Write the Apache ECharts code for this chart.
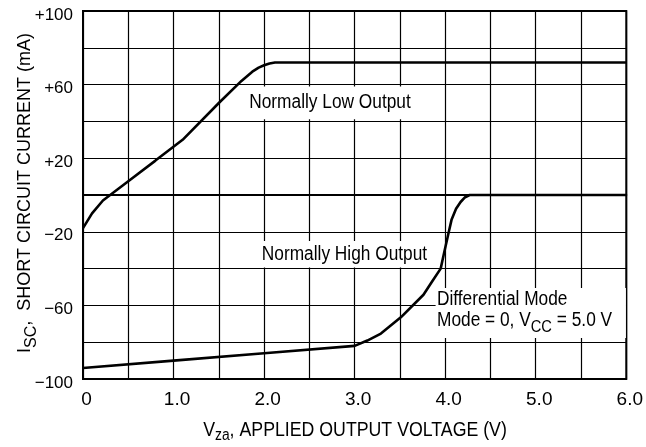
<!DOCTYPE html>
<html>
<head>
<meta charset="utf-8">
<script src="https://cdn.jsdelivr.net/npm/echarts@6/dist/echarts.min.js"></script>
<style>
html,body{margin:0;padding:0;background:#fff;}
#c{width:646px;height:447px;}
</style>
</head>
<body>
<div id="c"></div>
<script>
// ---- data ----
var lowOutput = [
  [0, -18], [0.1, -10], [0.22, -3], [0.5, 7.5], [0.8, 18.7], [1.1, 30],
  [1.5, 50], [1.75, 62], [1.87, 67], [1.94, 69.2], [2.0, 70.5], [2.06, 71.5],
  [2.12, 72], [6.0, 72]
];
var highOutput = [
  [0, -94], [1.0, -90], [2.0, -86], [3.0, -82], [3.14, -79.1], [3.29, -75.3],
  [3.51, -66.5], [3.76, -54.2], [3.85, -47.4], [3.95, -40], [3.99, -31],
  [4.04, -20], [4.07, -13.5], [4.12, -7.5], [4.17, -3.8], [4.22, -1.2],
  [4.27, 0], [6.0, 0]
];
var xTickLabels = ['0', '1.0', '2.0', '3.0', '4.0', '5.0', '6.0'];
var yTickLabels = ['+100', '+60', '+20', '\u221220', '\u221260', '\u2212100'];

var FONT = "'Liberation Sans', Arial, Helvetica, sans-serif";
var SX = 0.865; // condensed look

var chart = echarts.init(document.getElementById('c'), null, {renderer: 'canvas'});

var option = {
  animation: false,
  backgroundColor: '#fff',
  grid: {left: 83, right: 16, top: 11, bottom: 68, show: true, borderColor: '#000', borderWidth: 2, backgroundColor: 'transparent'},
  xAxis: {
    type: 'value', min: 0, max: 6, interval: 0.5,
    axisLine: {show: true, lineStyle: {color: '#000', width: 2}},
    axisTick: {show: false},
    splitLine: {show: true, lineStyle: {color: '#000', width: 1.2}},
    axisLabel: {
      color: '#000', fontFamily: FONT, fontSize: 19, margin: 11, padding: [0, 0, 0, 7],
      formatter: function (v) {
        var i = Math.round(v * 2);
        return (i % 2 === 0) ? xTickLabels[i / 2] : '';
      }
    }
  },
  yAxis: {
    type: 'value', min: -100, max: 100, interval: 20,
    axisLine: {show: true, lineStyle: {color: '#000', width: 2}},
    axisTick: {show: false},
    splitLine: {show: true, lineStyle: {color: '#000', width: 1.2}},
    axisLabel: {
      color: '#000', fontFamily: FONT, fontSize: 17, margin: 10,
      formatter: function (v) {
        var k = Math.round((100 - v) / 20);
        return (k % 2 === 0) ? '{a|' + yTickLabels[k / 2] + '}' : '';
      },
      rich: {a: {fontFamily: FONT, fontSize: 17, color: '#000', padding: [8, 0, 0, 0]}}
    }
  },
  series: [
    {type: 'line', data: lowOutput, showSymbol: false, smooth: false, z: 5,
     lineStyle: {color: '#000', width: 2.6}},
    {type: 'line', data: highOutput, showSymbol: false, smooth: false, z: 5,
     lineStyle: {color: '#000', width: 2.6}}
  ]
};
chart.setOption(option);

// annotation anchors (data coordinates of each label box's top-left corner)
function px(x, y) { return chart.convertToPixel({gridIndex: 0}, [x, y]); }
var aLow = px(1.788, 58.9);
var aHigh = px(1.941, -25);
var aDiff = px(3.894, -50.5);

function rich(main, sub, lh, pad) {
  return {
    m: {fontFamily: FONT, fontSize: main, lineHeight: lh, fill: '#000', color: '#000'},
    s: {fontFamily: FONT, fontSize: sub, lineHeight: lh, padding: [pad, 0, 0, 0], fill: '#000', color: '#000'}
  };
}

chart.setOption({
  graphic: [
    {type: 'text', x: aLow[0], y: aLow[1], scaleX: SX, z: 3,
     style: {text: 'Normally Low Output', font: '20px ' + FONT, fill: '#000',
             textAlign: 'left', textVerticalAlign: 'top', lineHeight: 22,
             backgroundColor: '#fff', padding: [4.6, 5, 6, 5]}},
    {type: 'text', x: aHigh[0], y: aHigh[1], scaleX: SX, z: 3,
     style: {text: 'Normally High Output', font: '20px ' + FONT, fill: '#000',
             textAlign: 'left', textVerticalAlign: 'top', lineHeight: 22,
             backgroundColor: '#fff', padding: [2.5, 5, 2, 3.5]}},
    {type: 'text', x: aDiff[0], y: aDiff[1], scaleX: SX, z: 3,
     style: {text: '{m|Differential Mode}\n{m|Mode = 0, V}{s|CC}{m| = 5.0 V}',
             textAlign: 'left', textVerticalAlign: 'top',
             backgroundColor: '#fff', padding: [1.5, 16, 6.5, 1.6],
             rich: rich(20, 17, 21, 12)}},
    {type: 'text', x: 25, y: 193, rotation: Math.PI / 2, z: 3,
     style: {text: '{m|I}{s|SC}{m|,  SHORT CIRCUIT CURRENT (mA)}',
             textAlign: 'center', textVerticalAlign: 'middle',
             rich: rich(18, 16, 22, 12.8)}},
    {type: 'text', x: 355, y: 430, scaleX: SX, z: 3,
     style: {text: '{m|V}{s|za}{m|, APPLIED OUTPUT VOLTAGE (V)}',
             textAlign: 'center', textVerticalAlign: 'middle',
             rich: rich(20.5, 16, 22, 12)}}
  ]
});
</script>
</body>
</html>
